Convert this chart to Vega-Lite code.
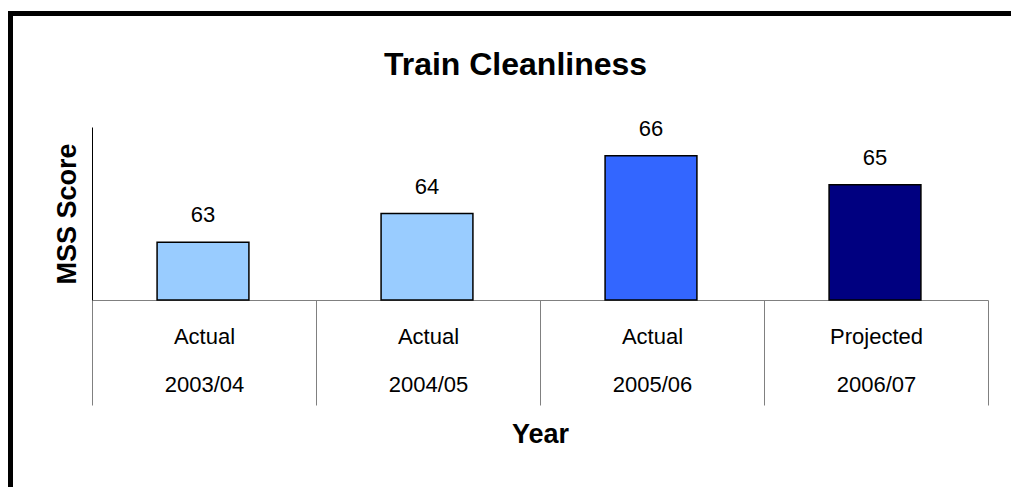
{
  "$schema": "https://vega.github.io/schema/vega-lite/v6.json",
  "width": 1001,
  "height": 474,
  "autosize": {"type": "none"},
  "padding": {"left": 10, "top": 13, "right": 0, "bottom": 0},
  "background": "white",
  "title": {
    "text": "Train Cleanliness",
    "font": "Liberation Sans",
    "fontSize": 32,
    "fontWeight": "bold",
    "color": "black",
    "anchor": "middle",
    "frame": "group",
    "baseline": "alphabetic",
    "offset": -94,
    "dx": 5
  },
  "data": {
    "values": [
      {"period": "Actual 2003/04", "score": 63},
      {"period": "Actual 2004/05", "score": 64},
      {"period": "Actual 2005/06", "score": 66},
      {"period": "Projected 2006/07", "score": 65}
    ]
  },
  "layer": [
    {
      "mark": {"type": "point", "opacity": 0},
      "encoding": {
        "x": {
          "datum": 0,
          "type": "quantitative",
          "scale": {"domain": [0, 1]},
          "axis": {"orient": "top", "offset": 0, "domain": true, "domainColor": "black", "domainWidth": 5, "domainCap": "square", "labels": false, "ticks": false, "grid": false, "title": null}
        },
        "y": {
          "datum": 0,
          "type": "quantitative",
          "scale": {"domain": [0, 1]},
          "axis": {"orient": "left", "offset": 0, "domain": true, "domainColor": "black", "domainWidth": 5, "domainCap": "square", "labels": false, "ticks": false, "grid": false, "title": null}
        }
      }
    },
    {
      "encoding": {
        "x": {
          "field": "period",
          "type": "nominal",
          "sort": null,
          "scale": {"type": "band", "range": [82, 978], "paddingInner": 0, "paddingOuter": 0},
          "axis": {
            "orient": "bottom",
            "offset": -187,
            "title": "Year",
            "titleFont": "Liberation Sans",
            "titleFontSize": 27,
            "titleFontWeight": "bold",
            "titleColor": "black",
            "titleBaseline": "alphabetic",
            "titleY": 142,
            "domain": true,
            "domainColor": "#808080",
            "domainWidth": 1,
            "ticks": true,
            "tickBand": "extent",
            "tickSize": 105,
            "tickColor": "#808080",
            "tickWidth": 1,
            "labelExpr": "split(datum.label, ' ')",
            "labelAngle": 0,
            "labelFont": "Liberation Sans",
            "labelFontSize": 22,
            "labelColor": "black",
            "labelBaseline": "alphabetic",
            "labelLineHeight": 48,
            "labelPadding": -62,
            "grid": false
          }
        },
        "y": {
          "field": "score",
          "type": "quantitative",
          "scale": {"domain": [61, 67], "range": [287, 114], "zero": false, "nice": false},
          "axis": {
            "orient": "left",
            "offset": -82,
            "title": "MSS Score",
            "titleFont": "Liberation Sans",
            "titleFontSize": 27,
            "titleFontWeight": "bold",
            "titleColor": "black",
            "titleBaseline": "alphabetic",
            "titlePadding": 17,
            "domain": true,
            "domainColor": "black",
            "domainWidth": 1,
            "ticks": false,
            "labels": false,
            "grid": false
          }
        }
      },
      "layer": [
        {
          "mark": {"type": "bar", "width": {"band": 0.41}, "xOffset": -1, "stroke": "black", "strokeWidth": 1.5},
          "encoding": {
            "y2": {"datum": 61},
            "color": {
              "field": "period",
              "type": "nominal",
              "sort": null,
              "scale": {"range": ["#99CCFF", "#99CCFF", "#3366FF", "#000080"]},
              "legend": null
            }
          }
        },
        {
          "mark": {"type": "text", "font": "Liberation Sans", "fontSize": 22, "color": "black", "baseline": "alphabetic", "dy": -20, "xOffset": -1},
          "encoding": {
            "text": {"field": "score", "type": "quantitative"}
          }
        }
      ]
    }
  ],
  "resolve": {"scale": {"x": "independent", "y": "independent"}},
  "config": {"view": {"stroke": null}}
}
